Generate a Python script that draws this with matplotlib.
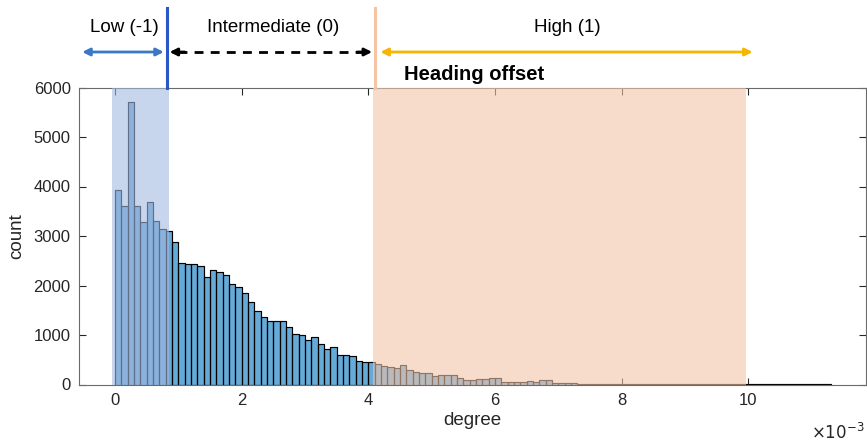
import matplotlib
matplotlib.use("Agg")
import matplotlib.pyplot as plt
from matplotlib.transforms import blended_transform_factory
import numpy as np

plt.rcParams['font.family'] = ['Liberation Sans', 'DejaVu Sans']

# histogram: bin width 0.1 (x 10^-3 degree), starting at 0
bin_width = 0.1
counts = [3927, 3610, 5704, 3610, 3274, 3678, 3294, 3133, 3099, 2884,
          2460, 2426, 2433, 2393, 2164, 2319, 2271, 2218, 2022, 1968,
          1845, 1670, 1491, 1356, 1290, 1290, 1289, 1154, 1026, 993,
          892, 959, 811, 710, 757, 589, 589, 582, 474, 461, 445,
          414, 380, 347, 340, 400, 293, 259, 225, 225, 178, 185, 185, 185,
          131, 91, 91, 118, 104, 131, 131, 57, 50, 50,
          57, 77, 57, 84, 84, 40, 40, 25, 35, 20, 20, 15, 10,
          10, 8, 8, 6, 6, 5, 5, 5, 5, 20, 12, 6, 5, 5, 4, 4, 4, 3, 3, 3, 3, 3, 3,
          10, 8, 8, 7, 6, 6, 5, 5, 5, 4, 4, 4, 3]
bin_left = np.arange(len(counts)) * bin_width

low_region = (-0.05, 0.85)
high_region = (4.08, 9.96)
low_line = 0.82
high_line = 4.11

xticks = [0, 2, 4, 6, 8, 10]
yticks = [0, 1000, 2000, 3000, 4000, 5000, 6000]

fig = plt.figure(figsize=(8.67, 4.43), dpi=100)
ax = fig.add_axes([79/867, 58.5/443, 787/867, 297/443])

ax.bar(bin_left, counts, width=bin_width, align='edge',
       color='#0072BD', alpha=0.6, edgecolor='black', linewidth=0.8, zorder=2)
ax.bar(bin_left, counts, width=bin_width, align='edge',
       facecolor='none', edgecolor='black', linewidth=0.8, zorder=2.1)

ax.axvspan(*low_region, color='#a3b9e1', alpha=0.6, lw=0, zorder=3)
ax.axvspan(*high_region, color='#f3c6aa', alpha=0.6, lw=0, zorder=3)

ax.set_xlim(-0.57, 11.86)
ax.set_ylim(0, 6000)
ax.set_xticks(xticks)
ax.set_yticks(yticks)
ax.tick_params(direction='in', length=5, width=0.8, top=True, right=True,
               labelsize=12, colors='#262626', pad=6)
for s in ax.spines.values():
    s.set_color('#6b6b6b')
    s.set_linewidth(0.8)
ax.set_xlabel('degree', fontsize=13.5, color='#262626', labelpad=3)
ax.set_ylabel('count', fontsize=13.5, color='#262626', labelpad=6)
fig.text(864/867, (443-432)/443, r'$\times10^{-3}$', fontsize=12,
         ha='right', va='center', color='#262626')

# annotations above the plot
tr = blended_transform_factory(ax.transData, fig.transFigure)
y_arrow = (443 - 52) / 443
y_text = (443 - 28) / 443
y_line_top = (443 - 8) / 443
y_line_bot = (443 - 88) / 443

ax.plot([low_line, low_line], [y_line_bot, y_line_top], transform=tr,
        color='#2b56c6', lw=2.2, clip_on=False, zorder=5)
ax.plot([high_line, high_line], [y_line_bot, y_line_top], transform=tr,
        color='#f6c3a4', lw=2.2, clip_on=False, zorder=5)

ax.annotate('', xy=(-0.52, y_arrow), xytext=(0.77, y_arrow),
            xycoords=tr, textcoords=tr,
            arrowprops=dict(arrowstyle='<|-|>', color='#3a77c6', lw=2,
                            mutation_scale=11, shrinkA=0, shrinkB=0))
ax.annotate('', xy=(4.19, y_arrow), xytext=(10.07, y_arrow),
            xycoords=tr, textcoords=tr,
            arrowprops=dict(arrowstyle='<|-|>', color='#f7b500', lw=2,
                            mutation_scale=11, shrinkA=0, shrinkB=0))
ax.plot([1.0, 3.92], [y_arrow, y_arrow], transform=tr, color='black',
        lw=2, ls=(0, (3.2, 2.6)), clip_on=False)
ax.annotate('', xy=(0.86, y_arrow), xytext=(1.1, y_arrow),
            xycoords=tr, textcoords=tr,
            arrowprops=dict(arrowstyle='-|>', color='black', lw=2,
                            mutation_scale=11, shrinkA=0, shrinkB=0))
ax.annotate('', xy=(4.06, y_arrow), xytext=(3.82, y_arrow),
            xycoords=tr, textcoords=tr,
            arrowprops=dict(arrowstyle='-|>', color='black', lw=2,
                            mutation_scale=11, shrinkA=0, shrinkB=0))

ax.text(0.14, y_text, 'Low (-1)', transform=tr, ha='center', va='center',
        fontsize=13.5, color='black')
ax.text(2.49, y_text, 'Intermediate (0)', transform=tr, ha='center', va='center',
        fontsize=13.5, color='black')
ax.text(7.15, y_text, 'High (1)', transform=tr, ha='center', va='center',
        fontsize=13.5, color='black')
ax.text(5.67, (443 - 75) / 443, 'Heading offset', transform=tr, ha='center',
        va='center', fontsize=14.5, fontweight='bold', color='black')

fig.savefig('out.png', dpi=100)
